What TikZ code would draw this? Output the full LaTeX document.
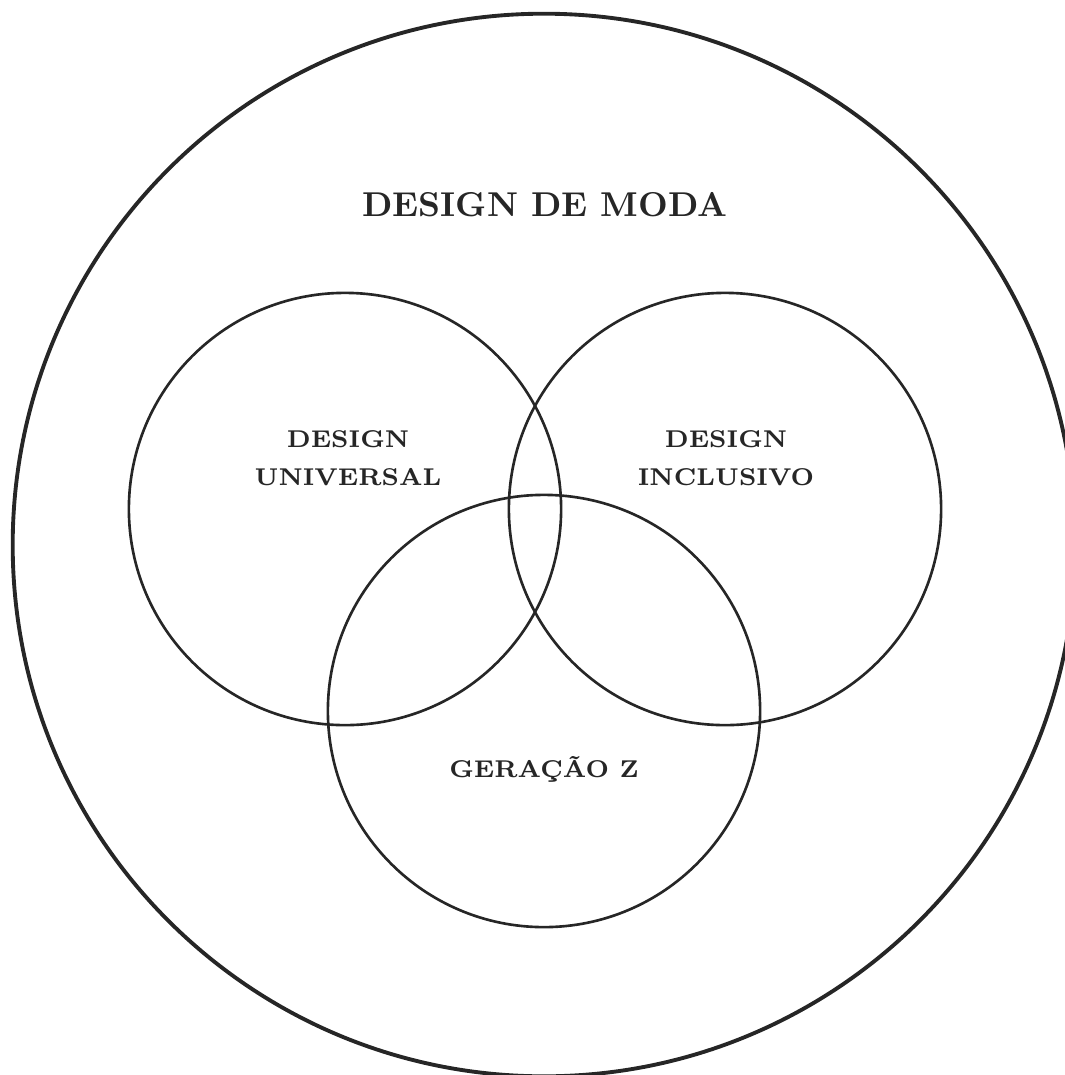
\documentclass[tikz,border=0pt]{standalone}
\usepackage{fontspec}
\usepackage{tikz}
\definecolor{ink}{HTML}{262626}

\begin{document}
\begin{tikzpicture}[x=0.01cm,y=-0.01cm,
  ring/.style={draw=ink,line width=1.1pt},
  set/.style={draw=ink,line width=0.75pt},
  title node/.style={text=ink,font=\fontsize{9.8}{11}\selectfont\bfseries},
  set node/.style={text=ink,font=\fontsize{6.9}{10.8}\selectfont\bfseries}]

\useasboundingbox (0,0) rectangle (1065,1075);
\clip (0,0) rectangle (1065,1075);

% outer field
\draw[ring] (544,545) circle (5.31cm);
\node[title node,anchor=base] (moda) at (545,216) {DESIGN DE MODA};

% the three sets
\draw[set] (345,509) circle (2.16cm);
\draw[set] (725,509) circle (2.16cm);
\draw[set] (544,711) circle (2.16cm);

\node[set node,align=center] (universal) at (348,458) {DESIGN\\UNIVERSAL};
\node[set node,align=center] (inclusivo) at (726,458) {DESIGN\\INCLUSIVO};
\node[set node,anchor=base] (geracao) at (544,777) {GERAÇÃO Z};

\end{tikzpicture}
\end{document}
